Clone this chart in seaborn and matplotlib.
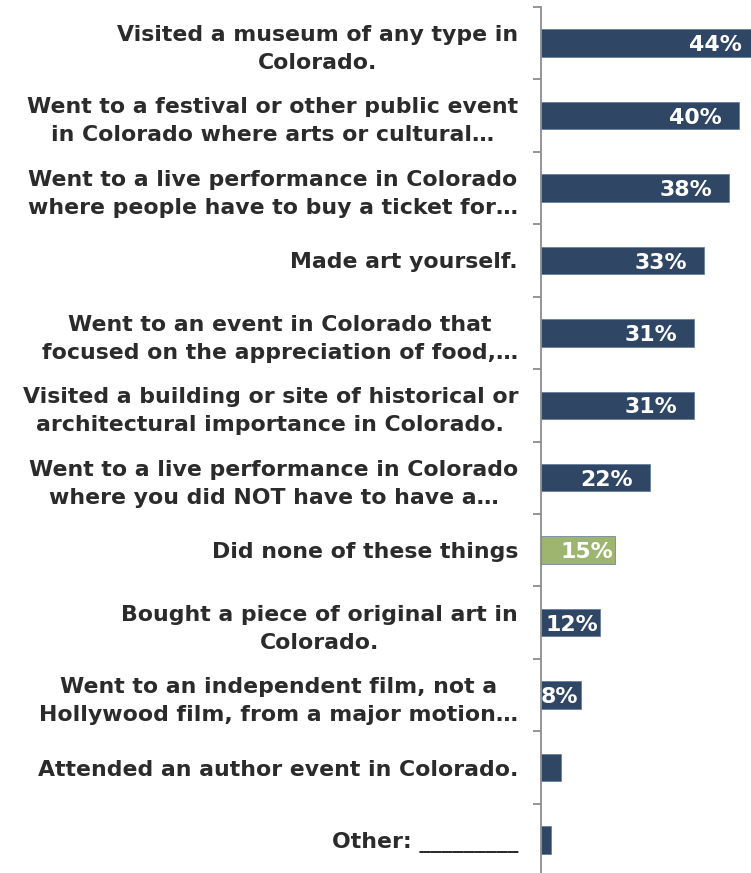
import matplotlib
matplotlib.use("Agg")
import matplotlib.pyplot as plt
import numpy as np
import pandas as pd
import seaborn as sns

# Share of respondents who did each arts/culture activity
activities = [
    "Visited a museum of any type in\nColorado.",
    "Went to a festival or other public event\nin Colorado where arts or cultural…",
    "Went to a live performance in Colorado\nwhere people have to buy a ticket for…",
    "Made art yourself.",
    "Went to an event in Colorado that\nfocused on the appreciation of food,…",
    "Visited a building or site of historical or\narchitectural importance in Colorado.",
    "Went to a live performance in Colorado\nwhere you did NOT have to have a…",
    "Did none of these things",
    "Bought a piece of original art in\nColorado.",
    "Went to an independent film, not a\nHollywood film, from a major motion…",
    "Attended an author event in Colorado.",
    "Other: _________",
]
shares = [44, 40, 38, 33, 31, 31, 22, 15, 12, 8, 4, 2]
highlight = "Did none of these things"

NAVY = "#26456D"
GREEN = "#A2C164"
TEXT = "#2B2B2B"
AXIS = "#8C8C8C"

sns.set_style("white")
plt.rcParams["font.family"] = ["DejaVu Sans"]

df = pd.DataFrame({"activity": activities, "share": shares})
palette = {a: (GREEN if a == highlight else NAVY) for a in activities}

W, H = 751, 873
fig = plt.figure(figsize=(W / 100, H / 100), dpi=100)
slot = 72.45
top_px = 43 - slot / 2
bot_px = 840 + slot / 2
ax = fig.add_axes([541 / W, (H - bot_px) / H, 210 / W, (bot_px - top_px) / H])

sns.barplot(data=df, x="share", y="activity", hue="activity", palette=palette,
            orient="h", width=0.38, legend=False, ax=ax,
            edgecolor="#5F789C", linewidth=0.5)

px_per_pct = 4.95
ax.set_xlim(0, 210 / px_per_pct)
ax.set_ylim(len(activities) - 0.5, -0.5)

FS = 15.8

# value labels inside the bar ends
for i, v in enumerate(shares):
    if v < 5:
        continue
    x = v - (3.4 if v >= 20 else 0.5)
    ax.text(x, i + 0.03, f"{v}%", ha="right", va="center", color="white",
            fontsize=FS, fontweight="bold", clip_on=True)

for s in ["top", "right", "bottom"]:
    ax.spines[s].set_visible(False)
ax.spines["left"].set_color(AXIS)
ax.spines["left"].set_linewidth(1.3)

ax.set_xticks([])
ax.set_xlabel("")
ax.set_ylabel("")
ax.set_yticks(np.arange(-0.5, len(activities), 1), minor=True)
ax.tick_params(axis="y", which="major", left=True, length=0, pad=16.5)
ax.tick_params(axis="y", which="minor", left=True, length=5.8, width=1.3,
               color=AXIS, direction="out")
for lab in ax.get_yticklabels():
    lab.set_fontsize(FS)
    lab.set_fontweight("bold")
    lab.set_color(TEXT)
    lab.set_multialignment("center")
    lab.set_linespacing(1.5)

fig.savefig("out.png", dpi=100)
